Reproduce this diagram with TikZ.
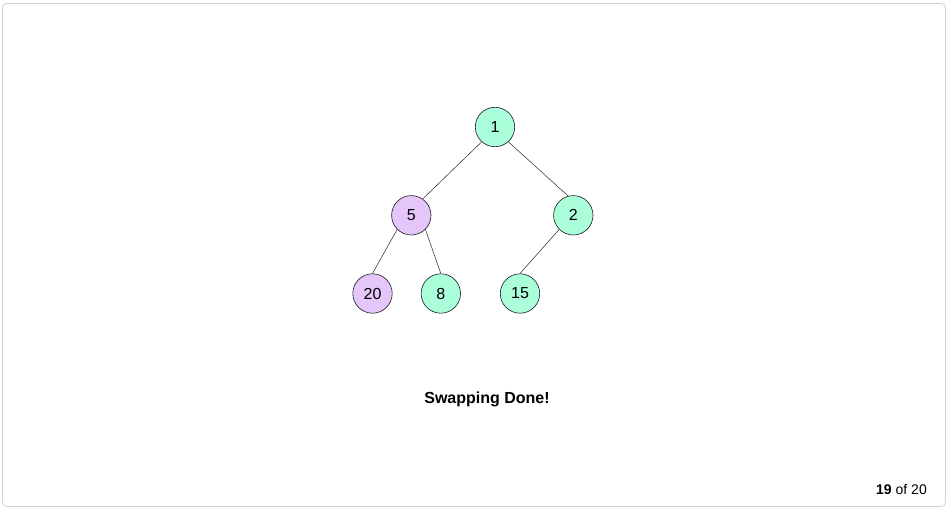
\documentclass[tikz,border=0pt]{standalone}
\usepackage{fontspec}
\setmainfont{Liberation Sans}
\definecolor{mint}{RGB}{170,255,218}
\definecolor{lilac}{RGB}{229,198,250}
\definecolor{framegray}{RGB}{210,210,210}
\begin{document}
\begin{tikzpicture}[x=1pt,y=-1pt,
  heapnode/.style={circle,draw=black!90,line width=0.6pt,minimum size=39.4pt,inner sep=0pt,font=\fontsize{16}{18}\selectfont},
  greennode/.style={heapnode,fill=mint},
  purplenode/.style={heapnode,fill=lilac},
  edge/.style={draw=black!75,line width=0.6pt}]
\useasboundingbox (0,0) rectangle (949,510);
\draw[framegray,line width=0.8pt,rounded corners=4pt] (2.5,3.5) rectangle (945.5,506.5);
\node[greennode] (n1) at (495,127) {1};
\node[purplenode] (n5) at (411.3,215.3) {5};
\node[greennode] (n2) at (573.3,215.3) {2};
\node[purplenode] (n20) at (372.5,293.5) {20};
\node[greennode] (n8) at (440.8,293.5) {8};
\node[greennode] (n15) at (520,293.5) {15};
\draw[edge] (n1.228) -- (n5.55);
\draw[edge] (n1.312) -- (n2.105);
\draw[edge] (n5.225) -- (n20.90);
\draw[edge] (n5.315) -- (n8.90);
\draw[edge] (n2.225) -- (n15.90);
\node[font=\bfseries\fontsize{16}{18}\selectfont] (caption) at (487,399.5) {Swapping Done!};
\node[font=\fontsize{14}{16}\selectfont,anchor=east,inner sep=0pt] (counter) at (927,489) {\textbf{19} of 20};
\end{tikzpicture}
\end{document}
